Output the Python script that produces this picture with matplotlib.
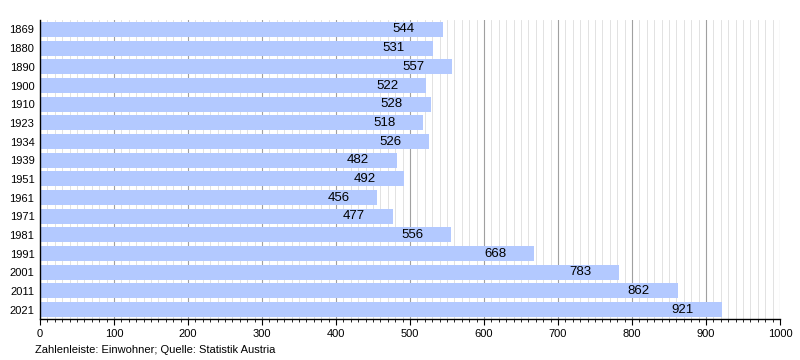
import numpy as np
import matplotlib.pyplot as plt
from matplotlib.ticker import MultipleLocator

plt.rcParams["font.family"] = ["Liberation Sans", "DejaVu Sans"]

# Population by census year
years = ["1869", "1880", "1890", "1900", "1910", "1923", "1934", "1939",
         "1951", "1961", "1971", "1981", "1991", "2001", "2011", "2021"]
population = [544, 531, 557, 522, 528, 518, 526, 482,
              492, 456, 477, 556, 668, 783, 862, 921]

bar_color = "#b3c9ff"

fig = plt.figure(figsize=(8, 3.6), dpi=100)
ax = fig.add_axes([0.05, 0.114, 0.925, 0.83])

pos = np.arange(len(years))
ax.barh(pos, population, height=0.8, color=bar_color, zorder=2)

for p, v in zip(pos, population):
    ax.text(v - 38, p, str(v), ha="right", va="center", fontsize=9.5,
            color="black", zorder=3)

ax.set_ylim(len(years) - 0.5, -0.5)
ax.set_yticks(pos)
ax.set_yticklabels(years, fontsize=8)
ax.tick_params(axis="y", length=0, pad=4)

ax.set_xlim(0, 1000)
ax.xaxis.set_major_locator(MultipleLocator(100))
ax.xaxis.set_minor_locator(MultipleLocator(10))
ax.tick_params(axis="x", which="major", length=4, width=0.8, labelsize=8, pad=3)
ax.tick_params(axis="x", which="minor", length=2.5, width=0.6)

ax.grid(axis="x", which="major", color="#a0a0a0", linewidth=0.8, zorder=0)
ax.grid(axis="x", which="minor", color="#dddddd", linewidth=0.6, zorder=0)
ax.set_axisbelow(True)

for s in ["top", "right"]:
    ax.spines[s].set_visible(False)
ax.spines["left"].set_linewidth(1.0)
ax.spines["bottom"].set_linewidth(1.0)

fig.text(35 / 800, 1 - 350 / 360, "Zahlenleiste: Einwohner; Quelle: Statistik Austria",
         fontsize=8, ha="left", va="center")

fig.savefig("out.png", dpi=100)
